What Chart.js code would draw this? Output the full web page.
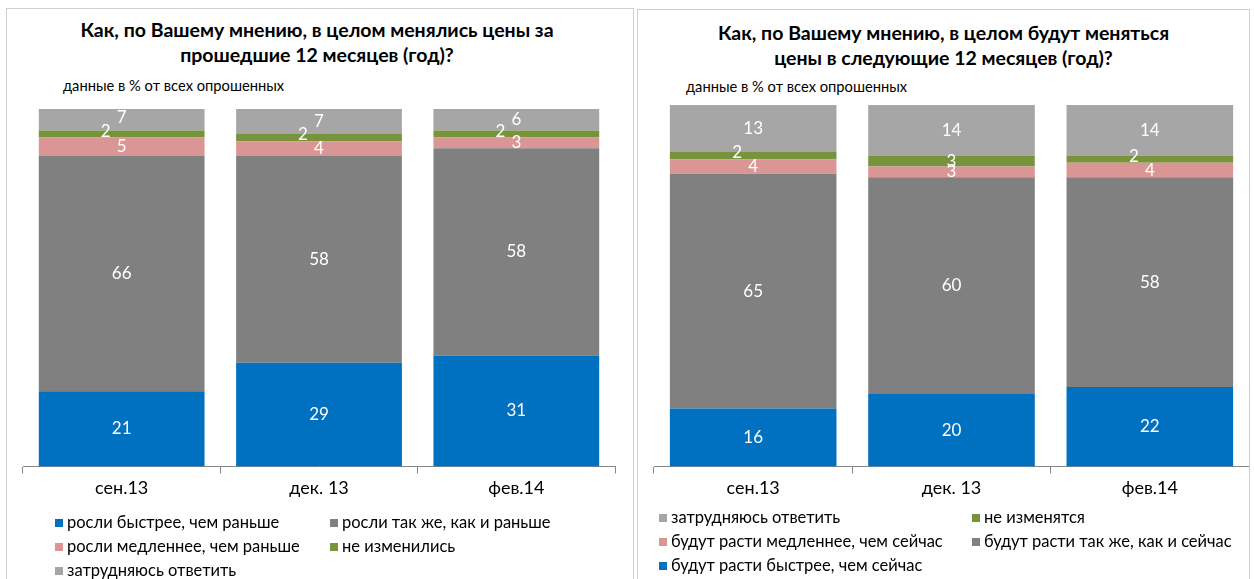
<!DOCTYPE html>
<html lang="ru">
<head>
<meta charset="UTF-8">
<title>Цены</title>
<script src="https://cdn.jsdelivr.net/npm/chart.js"></script>
<style>
  body { margin: 0; width: 1254px; height: 579px; overflow: hidden; background: #fff; font-family: Lato, "Open Sans", sans-serif; position: relative; }
  .panel { position: absolute; border: 1px solid #cfcfcf; background: #fff; }
  .title { position: absolute; left: 0; right: 0; text-align: center; font-weight: bold; font-size: 19.5px; line-height: 25px; color: #000; }
  .sub { position: absolute; font-size: 14.7px; color: #000; }
  .chart { position: absolute; }
  .legend { position: absolute; font-size: 16.5px; color: #000; }
  .legend div { position: absolute; white-space: nowrap; line-height: 18px; }
  .legend span { display: inline-block; width: 8px; height: 8px; margin-right: 4px; vertical-align: 1px; }
</style>
</head>
<body>
  <div class="panel" id="p1" style="left:6px; top:8px; width:626px; height:590px;">
    <div class="title" style="top:8px; left:0; right:6px;">Как, по Вашему мнению, в целом менялись цены за<br>прошедшие 12 месяцев (год)?</div>
    <div class="sub" style="left:56px; top:67px;">данные в % от всех опрошенных</div>
    <div class="chart" style="left:0; top:86px; width:626px; height:420px;"><canvas id="c1"></canvas></div>
    <div class="legend" id="l1"></div>
  </div>
  <div class="panel" id="p2" style="left:637px; top:9px; width:611px; height:590px;">
    <div class="title" style="top:10px; left:0; right:0;">Как, по Вашему мнению, в целом будут меняться<br>цены в следующие 12 месяцев (год)?</div>
    <div class="sub" style="left:48px; top:67px;">данные в % от всех опрошенных</div>
    <div class="chart" style="left:0; top:85px; width:611px; height:420px;"><canvas id="c2"></canvas></div>
    <div class="legend" id="l2"></div>
  </div>

<script>
  // categories
  const months = ['сен.13', 'дек. 13', 'фев.14'];

  // left chart: past 12 months
  const pastFaster = [21, 29, 31];
  const pastSame = [66, 58, 58];
  const pastSlower = [5, 4, 3];
  const pastNoChange = [2, 2, 2];
  const pastDontKnow = [7, 7, 6];

  // right chart: next 12 months
  const nextFaster = [16, 20, 22];
  const nextSame = [65, 60, 58];
  const nextSlower = [4, 3, 4];
  const nextNoChange = [2, 3, 2];
  const nextDontKnow = [13, 14, 14];

  const blue = '#0070C0', darkGray = '#808080', pink = '#DA9694', green = '#77933C', lightGray = '#A6A6A6';

  // white value labels in the middle of each segment
  const valueLabels = {
    id: 'valueLabels',
    afterDatasetsDraw(chart) {
      const ctx = chart.ctx;
      ctx.save();
      ctx.fillStyle = '#fff';
      ctx.font = '17px Lato, "Open Sans", sans-serif';
      ctx.textAlign = 'center';
      ctx.textBaseline = 'middle';
      chart.data.datasets.forEach((ds, i) => {
        chart.getDatasetMeta(i).data.forEach((bar, j) => {
          const v = ds.data[j];
          let x = bar.x, y = (bar.y + bar.base) / 2;
          if (v <= 2) { x -= 16; y -= 3; }
          ctx.fillText(v, x, y);
        });
      });
      ctx.restore();
    }
  };

  function makeChart(id, sets, pad) {
    return new Chart(document.getElementById(id), {
      type: 'bar',
      data: {
        labels: months,
        datasets: sets.map(s => ({
          label: s[0], data: s[1], backgroundColor: s[2],
          categoryPercentage: 0.84, barPercentage: 1
        }))
      },
      options: {
        responsive: true,
        maintainAspectRatio: false,
        animation: false,
        layout: { padding: pad },
        plugins: { legend: { display: false }, tooltip: { enabled: false } },
        scales: {
          x: {
            stacked: true,
            grid: { display: true, drawOnChartArea: false, drawTicks: true, tickLength: 7, color: '#868686', offset: true },
            border: { color: '#868686' },
            ticks: { color: '#000', padding: 4, font: { size: 18, family: 'Lato, "Open Sans", sans-serif' } }
          },
          y: { stacked: true, display: false, min: 0, max: 100 }
        }
      },
      plugins: [valueLabels]
    });
  }

  makeChart('c1', [
    ['росли быстрее, чем раньше', pastFaster, blue],
    ['росли так же, как и раньше', pastSame, darkGray],
    ['росли медленнее, чем раньше', pastSlower, pink],
    ['не изменились', pastNoChange, green],
    ['затрудняюсь ответить', pastDontKnow, lightGray]
  ], { left: 16, right: 18, top: 14, bottom: 12 });

  makeChart('c2', [
    ['будут расти быстрее, чем сейчас', nextFaster, blue],
    ['будут расти так же, как и сейчас', nextSame, darkGray],
    ['будут расти медленнее, чем сейчас', nextSlower, pink],
    ['не изменятся', nextNoChange, green],
    ['затрудняюсь ответить', nextDontKnow, lightGray]
  ], { left: 16, right: 0, top: 10, bottom: 12 });

  // html legends in two columns, like the original
  function legend(id, items, cols, top) {
    const el = document.getElementById(id);
    items.forEach((it, k) => {
      const d = document.createElement('div');
      d.style.left = cols[k % 2] + 'px';
      d.style.top = (top + Math.floor(k / 2) * 24) + 'px';
      d.innerHTML = '<span style="background:' + it[1] + '"></span>' + it[0];
      el.appendChild(d);
    });
  }
  legend('l1', [
    ['росли быстрее, чем раньше', blue],
    ['росли так же, как и раньше', darkGray],
    ['росли медленнее, чем раньше', pink],
    ['не изменились', green],
    ['затрудняюсь ответить', lightGray]
  ], [48, 323], 504);
  legend('l2', [
    ['затрудняюсь ответить', lightGray],
    ['не изменятся', green],
    ['будут расти медленнее, чем сейчас', pink],
    ['будут расти так же, как и сейчас', darkGray],
    ['будут расти быстрее, чем сейчас', blue]
  ], [21, 334], 498);
</script>
</body>
</html>
